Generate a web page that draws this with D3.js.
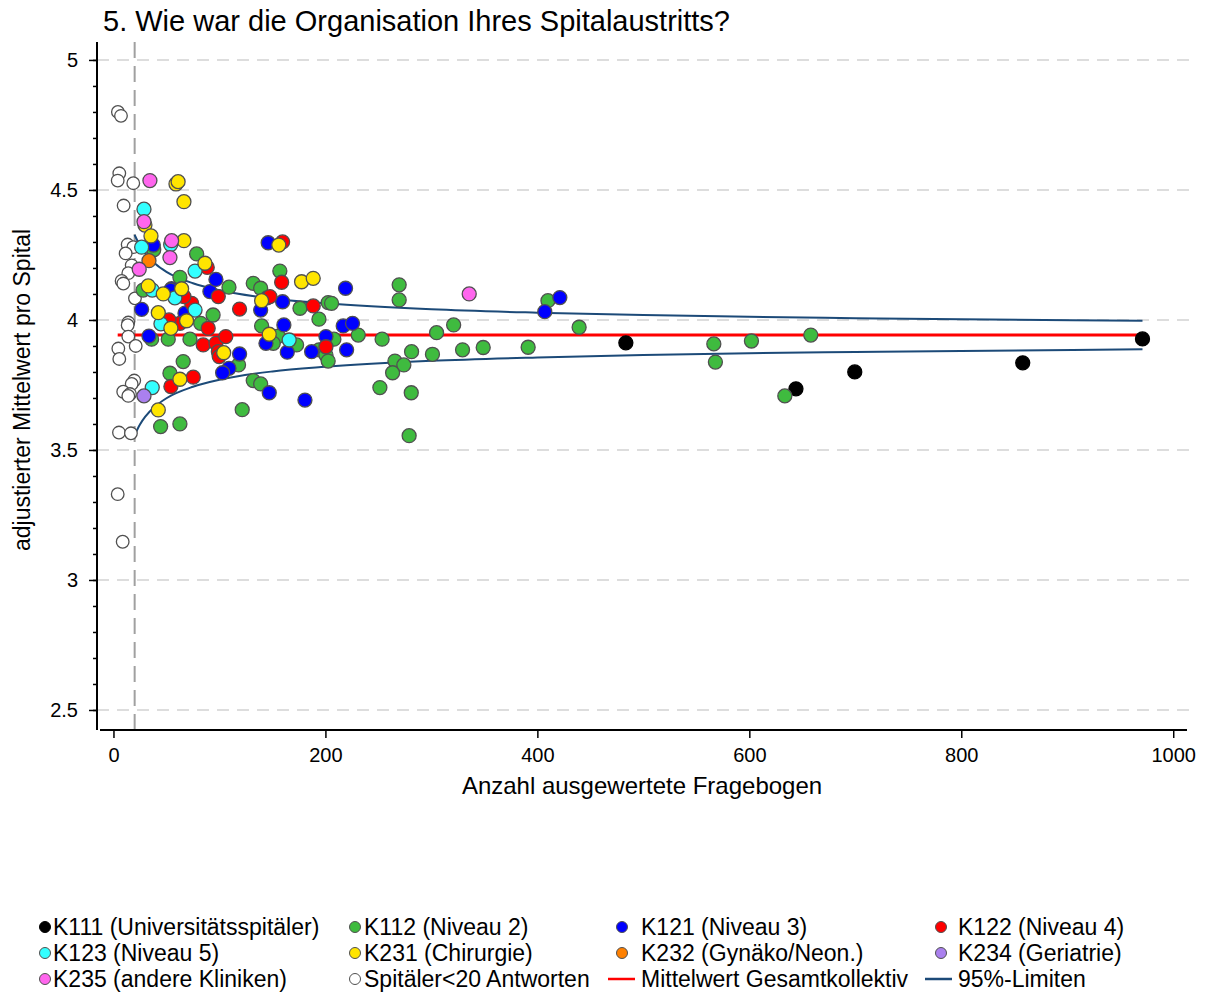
<!DOCTYPE html>
<html>
<head>
<meta charset="utf-8">
<script src="https://cdn.jsdelivr.net/npm/d3@7"></script>
<style>
  body { margin: 0; background: #fff; }
  svg { font-family: "Liberation Sans", Arial, sans-serif; }
</style>
</head>
<body>
<div id="chart"></div>
<script>
// values: [n questionnaires, adjusted mean]
var k111 = [[483.5,3.912],[644,3.735],[699.5,3.80],[858,3.835],[971,3.927]];
var k112 = [[38,4.27],[78.5,4.254],[109,4.126],[62.7,4.164],[28,4.115],[36,3.926],[51.7,3.926],
  [72.2,3.926],[65.8,3.84],[53.3,3.795],[44.5,3.59],[62.7,3.60],[94,4.019],[82.3,3.987],
  [118,3.827],[121.5,3.655],[157,4.188],[131.9,4.141],[138.9,4.122],[269.6,4.135],[269.6,4.077],
  [176,4.045],[202.6,4.067],[205.8,4.064],[193.9,4.003],[139.8,3.977],[155.5,3.938],[150.8,3.91],
  [172.8,3.904],[194,3.885],[208,3.926],[200.5,3.865],[202.6,3.842],[231,3.942],[253.5,3.926],
  [265.6,3.842],[263.4,3.797],[251.4,3.74],[131.9,3.767],[138.9,3.754],[410,4.074],[439.4,3.972],
  [321,3.981],[304.9,3.951],[281.3,3.878],[301,3.868],[329.4,3.885],[348.9,3.894],[391.3,3.895],
  [274,3.827],[566.5,3.908],[568,3.838],[602,3.919],[658,3.942],[633.5,3.708],[281,3.72],[279,3.555]];
var k121 = [[37.6,4.288],[54.9,4.12],[91,4.109],[96.7,4.156],[54,4.115],[26.6,4.041],[67.5,4.026],
  [33.5,3.938],[119,3.869],[109,3.814],[103,3.797],[146,4.297],[219,4.122],[138.9,4.038],
  [159.6,4.07],[160.8,3.981],[143.9,3.91],[164,3.876],[187,3.878],[200.5,3.936],[216.8,3.977],
  [225.6,3.987],[220,3.885],[147,3.72],[180.7,3.692],[421.2,4.086],[407,4.032],[145,4.085]];
var k122 = [[88.5,4.202],[98.9,4.09],[62.7,3.987],[52.4,4.0],[73.8,4.064],[84.7,3.904],[75.3,3.78],
  [54.2,3.744],[119,4.042],[89.4,3.968],[96.7,3.91],[106,3.936],[99,3.878],[99.8,3.859],
  [159.6,4.30],[158.7,4.145],[147.6,4.09],[188.5,4.054],[200.5,3.897],[66.5,4.09]];
var k123 = [[28.8,4.426],[26.6,4.28],[54,4.29],[77,4.188],[36.6,4.115],[58,4.085],[77,4.038],
  [44.8,3.985],[36.6,3.74],[165.8,3.923]];
var k231 = [[59,4.523],[61,4.532],[66.5,4.455],[29.7,4.365],[35.4,4.323],[66.5,4.305],[86.3,4.218],
  [32.8,4.131],[64.3,4.12],[47,4.10],[42.3,4.028],[54.2,3.968],[69,3.997],[62.7,3.772],
  [42.3,3.654],[104,3.874],[156,4.288],[177.5,4.147],[188.5,4.16],[139.8,4.074],[147,3.945]];
var k232 = [[33.5,4.228]];
var k234 = [[28.8,3.708]];
var k235 = [[34.4,4.536],[28.8,4.378],[54.9,4.305],[53.3,4.24],[24.3,4.195],[335.7,4.10]];
var under20 = [[4.2,4.80],[7.1,4.785],[5.5,4.564],[4,4.536],[18.7,4.526],[9.6,4.44],[13.4,4.29],
  [18.7,4.28],[11.5,4.256],[17.2,4.21],[14,4.18],[7.7,4.15],[9.3,4.14],[20.3,4.083],[14,3.99],
  [13.4,3.98],[14,3.936],[21,3.90],[4.6,3.89],[5.5,3.85],[19.6,3.767],[17.2,3.754],[9.2,3.724],
  [15.6,3.715],[14,3.708],[5.2,3.567],[16.5,3.564],[4,3.33],[8.7,3.147]];

var meanN = [4, 971];
var meanV = [3.942, 3.942];
var limitN = [20, 25, 30, 40, 50, 75, 100, 150, 200, 300, 400, 500, 600, 700, 800, 971];
var upperV = [4.327, 4.286, 4.256, 4.214, 4.185, 4.141, 4.114, 4.082, 4.064, 4.041, 4.028, 4.019, 4.012, 4.007, 4.003, 3.997];
var lowerV = [3.557, 3.598, 3.628, 3.670, 3.699, 3.743, 3.770, 3.802, 3.820, 3.843, 3.856, 3.865, 3.872, 3.877, 3.881, 3.887];
var cutoffN = 20;

var xTicks = [0, 200, 400, 600, 800, 1000];
var yTicks = [2.5, 3, 3.5, 4, 4.5, 5];
var yMinor = d3.range(25, 51).map(function(d) { return d / 10; });

var groups = [
  { label: "K111 (Universitätsspitäler)", data: k111, fill: "#000000", stroke: "#000000" },
  { label: "K112 (Niveau 2)", data: k112, fill: "#3fbb3f", stroke: "#505050" },
  { label: "K121 (Niveau 3)", data: k121, fill: "#0000ff", stroke: "#505050" },
  { label: "K122 (Niveau 4)", data: k122, fill: "#ff0000", stroke: "#505050" },
  { label: "K123 (Niveau 5)", data: k123, fill: "#33ffff", stroke: "#505050" },
  { label: "K231 (Chirurgie)", data: k231, fill: "#ffe500", stroke: "#505050" },
  { label: "K232 (Gynäko/Neon.)", data: k232, fill: "#ff8000", stroke: "#505050" },
  { label: "K234 (Geriatrie)", data: k234, fill: "#aa80ee", stroke: "#505050" },
  { label: "K235 (andere Kliniken)", data: k235, fill: "#ff66ee", stroke: "#505050" },
  { label: "Spitäler<20 Antworten", data: under20, fill: "#ffffff", stroke: "#505050" }
];

var w = 1207, h = 993;

var svg = d3.select("#chart")
  .append("svg")
  .attr("width", w)
  .attr("height", h);

var xScale = d3.scaleLinear()
  .domain([-12.7, 1013])
  .range([100, 1187]);

var yScale = d3.scaleLinear()
  .domain([2.423, 5.069])
  .range([730, 42]);

// title
svg.append("text")
  .attr("x", 103)
  .attr("y", 31)
  .attr("font-size", "29px")
  .text("5. Wie war die Organisation Ihres Spitalaustritts?");

// horizontal grid
svg.selectAll(".grid")
  .data(yTicks)
  .enter()
  .append("line")
  .attr("x1", 97)
  .attr("x2", 1192)
  .attr("y1", function(d) { return yScale(d); })
  .attr("y2", function(d) { return yScale(d); })
  .attr("stroke", "#dddddd")
  .attr("stroke-width", 2)
  .attr("stroke-dasharray", "12,8");

// cutoff line at n = 20
svg.append("line")
  .attr("x1", xScale(cutoffN))
  .attr("x2", xScale(cutoffN))
  .attr("y1", 42)
  .attr("y2", 730)
  .attr("stroke", "#a0a0a0")
  .attr("stroke-width", 2)
  .attr("stroke-dasharray", "16,8");

// axes
var yAxis = d3.axisLeft(yScale)
  .tickValues(yTicks)
  .tickSize(8)
  .tickPadding(11)
  .tickFormat(function(d) { return String(d); });

var yAxisMinor = d3.axisLeft(yScale)
  .tickValues(yMinor)
  .tickSize(4)
  .tickFormat("");

svg.append("g")
  .attr("transform", "translate(97,0)")
  .call(yAxisMinor)
  .call(function(g) { g.select(".domain").remove(); });

var gy = svg.append("g")
  .attr("transform", "translate(97,0)")
  .call(yAxis);

var xAxis = d3.axisBottom(xScale)
  .tickValues(xTicks)
  .tickSize(8)
  .tickPadding(10)
  .tickFormat(function(d) { return String(d); });

var gx = svg.append("g")
  .attr("transform", "translate(0,730)")
  .call(xAxis);

[gx, gy].forEach(function(g) {
  g.select(".domain").attr("stroke", "#000").attr("stroke-width", 2);
  g.selectAll(".tick line").attr("stroke", "#000").attr("stroke-width", 2);
  g.selectAll(".tick text")
    .attr("font-family", "Liberation Sans, Arial, sans-serif")
    .attr("font-size", "20px")
    .attr("fill", "#000");
});
gx.select(".domain").attr("d", "M100,0H1187");
gy.select(".domain").attr("d", "M0,42V730");
svg.selectAll("g .tick line").attr("stroke-width", 1.5);

svg.append("text")
  .attr("x", 642)
  .attr("y", 794)
  .attr("text-anchor", "middle")
  .attr("font-size", "24px")
  .text("Anzahl ausgewertete Fragebogen");

svg.append("text")
  .attr("transform", "translate(30,390) rotate(-90)")
  .attr("text-anchor", "middle")
  .attr("font-size", "23px")
  .text("adjustierter Mittelwert pro Spital");

// mean and 95% limits
var line = d3.line()
  .x(function(d) { return xScale(d[0]); })
  .y(function(d) { return yScale(d[1]); });

svg.append("path")
  .datum(d3.zip(meanN, meanV))
  .attr("d", line)
  .attr("fill", "none")
  .attr("stroke", "#ff0000")
  .attr("stroke-width", 3);

var curve = d3.line()
  .curve(d3.curveMonotoneX)
  .x(function(d) { return xScale(d[0]); })
  .y(function(d) { return yScale(d[1]); });

[upperV, lowerV].forEach(function(vals) {
  svg.append("path")
    .datum(d3.zip(limitN, vals))
    .attr("d", curve)
    .attr("fill", "none")
    .attr("stroke", "#1c4a78")
    .attr("stroke-width", 2);
});

// points: small hospitals first, then the groups
var drawOrder = [groups[9]].concat(groups.slice(0, 9));
drawOrder.forEach(function(g) {
  svg.append("g")
    .selectAll("circle")
    .data(g.data)
    .enter()
    .append("circle")
    .attr("cx", function(d) { return xScale(d[0]); })
    .attr("cy", function(d) { return yScale(d[1]); })
    .attr("r", g.fill == "#ffffff" ? 6.3 : 7)
    .attr("fill", g.fill)
    .attr("stroke", g.stroke)
    .attr("stroke-width", 1.3);
});

// legend
var legendCols = [45, 355, 622, 941];
var legendTextX = [53, 364, 641, 958];
var legendRows = [927, 953, 979];

var legendItems = groups.map(function(g) {
  return { label: g.label, type: "circle", fill: g.fill, stroke: g.stroke };
});
legendItems.push({ label: "Mittelwert Gesamtkollektiv", type: "line", color: "#ff0000" });
legendItems.push({ label: "95%-Limiten", type: "line", color: "#1c4a78" });

var legend = svg.append("g");

legendItems.forEach(function(it, i) {
  var col = i % 4, row = Math.floor(i / 4);
  var y = legendRows[row];
  if (it.type == "circle") {
    legend.append("circle")
      .attr("cx", legendCols[col])
      .attr("cy", y)
      .attr("r", 5.5)
      .attr("fill", it.fill)
      .attr("stroke", it.stroke)
      .attr("stroke-width", 1);
  } else {
    legend.append("line")
      .attr("x1", legendTextX[col] - 33)
      .attr("x2", legendTextX[col] - 6)
      .attr("y1", y)
      .attr("y2", y)
      .attr("stroke", it.color)
      .attr("stroke-width", 2.5);
  }
  legend.append("text")
    .attr("x", legendTextX[col])
    .attr("y", y)
    .attr("dy", "0.35em")
    .attr("font-size", "23px")
    .text(it.label);
});
</script>
</body>
</html>
